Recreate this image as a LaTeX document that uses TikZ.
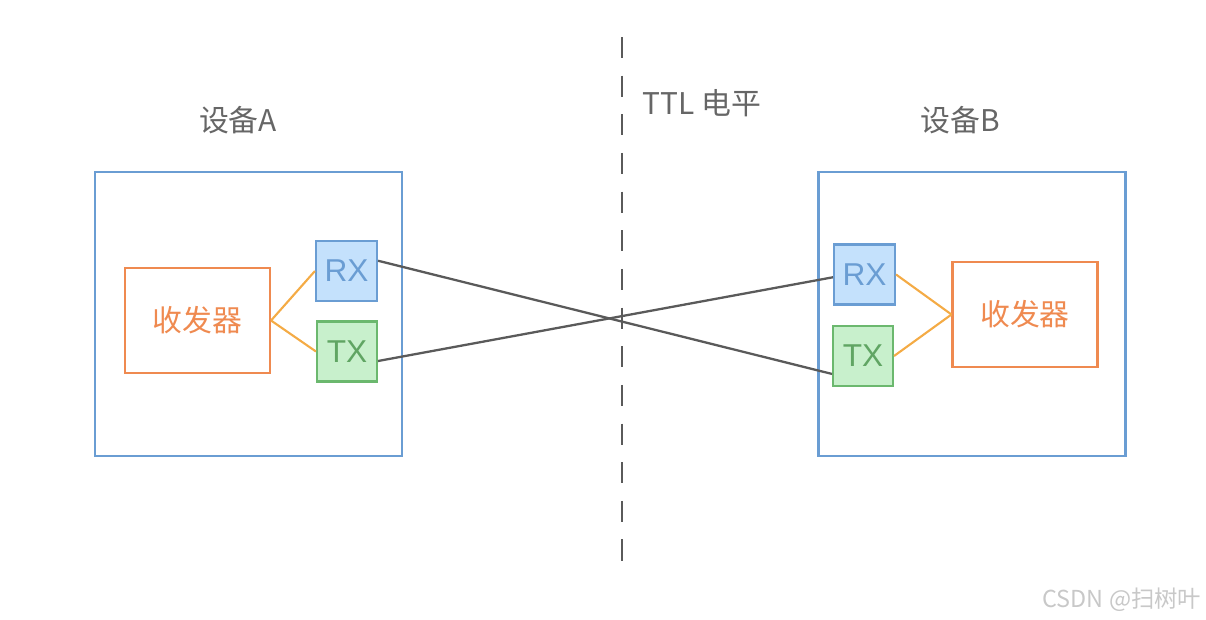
\documentclass[tikz,border=0pt]{standalone}
\usepackage{fontspec}
\setmainfont{Liberation Sans}
\newfontfamily\cjkfont{Noto Sans CJK SC}
\usetikzlibrary{calc}

\definecolor{devblue}{HTML}{6A9DD3}
\definecolor{rxfill}{HTML}{C4E1FC}
\definecolor{txfill}{HTML}{C8F0CC}
\definecolor{txline}{HTML}{6BB86E}
\definecolor{trorange}{HTML}{EF8A50}
\definecolor{linkorange}{HTML}{F4AB45}
\definecolor{wire}{HTML}{5A5A5A}
\definecolor{marktext}{HTML}{C8C8C8}

\begin{document}
\begin{tikzpicture}
  [x=0.02cm, y=-0.02cm,
   device/.style={draw=devblue, line width=1.2pt, minimum width=6.14cm, minimum height=5.68cm},
   transceiver/.style={draw=trorange, line width=1.2pt, minimum width=2.9cm, minimum height=2.1cm,
     text=trorange, font=\cjkfont\fontsize{17}{20}\selectfont},
   rxport/.style={draw=devblue, fill=rxfill, line width=1.2pt, minimum width=1.22cm, minimum height=1.2cm,
     text=devblue, font=\fontsize{18}{21}\selectfont},
   txport/.style={draw=txline, fill=txfill, line width=1.2pt, minimum width=1.2cm, minimum height=1.2cm,
     text=txline!90!black, font=\fontsize{18}{21}\selectfont},
   caption/.style={text=black!60, font=\cjkfont\fontsize{17}{20}\selectfont}]

  \useasboundingbox (0,0) rectangle (1206,619);

  % device A
  \node
  [device]
  (devA) at (248.5,314) {};

  \node
  [transceiver]
  (transA) at (197.5,320.5) {收发器};

  \node
  [rxport]
  (rxA) at (346.5,271) {RX};

  \node
  [txport]
  (txA) at (347,351.5) {TX};

  \node
  [caption]
  (labA) at (238,120) {设备A};

  % device B
  \node
  [device]
  (devB) at (972,314) {};

  \node
  [transceiver]
  (transB) at (1025,314.5) {收发器};

  \node
  [rxport]
  (rxB) at (864.5,274.5) {RX};

  \node
  [txport]
  (txB) at (863,356) {TX};

  \node
  [caption]
  (labB) at (960,120) {设备B};

  % level boundary
  \coordinate (divTop) at (622,37);
  \coordinate (divBot) at (622,565);

  \draw
  [wire, line width=1.2pt, dash pattern=on 12pt off 10pt]
  (divTop) -- (divBot);

  \node
  [caption]
  (ttl) at (702,103) {TTL 电平};

  % inner links
  \draw
  [linkorange, line width=1.2pt]
  (transA.east) -- (rxA.west);

  \draw
  [linkorange, line width=1.2pt]
  (transA.east) -- (txA.west);

  \draw
  [linkorange, line width=1.2pt]
  (rxB.east) -- (transB.west);

  \draw
  [linkorange, line width=1.2pt]
  (txB.east) -- (transB.west);

  % crossed wires
  \draw
  [wire, line width=1.3pt]
  (rxA.18) -- (txB.210);

  \draw
  [wire, line width=1.3pt]
  (txA.-17) -- (rxB.185);

  \node
  [text=marktext, font=\cjkfont\fontsize{13.3}{15}\selectfont]
  (mark) at (1122,600) {CSDN @扫树叶};
\end{tikzpicture}
\end{document}
